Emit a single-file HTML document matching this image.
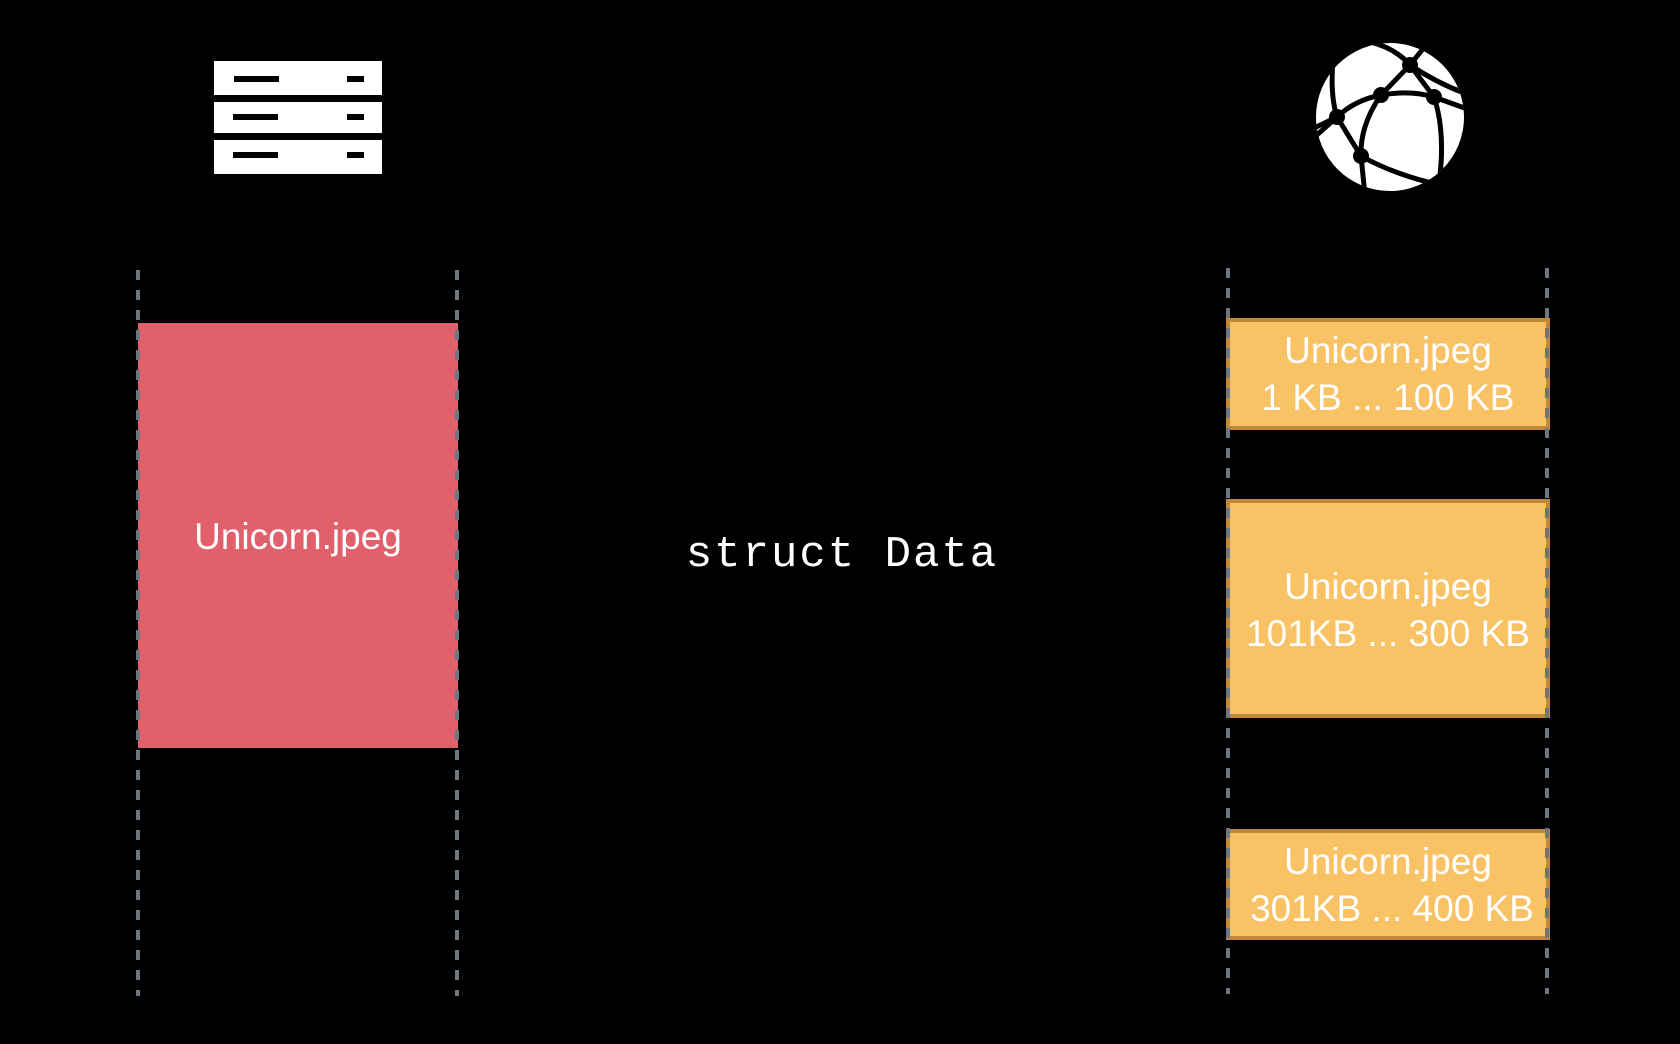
<!DOCTYPE html>
<html><head><meta charset="utf-8"><style>
html,body{margin:0;padding:0;background:#000;}
svg{display:block}
</style></head><body>
<svg width="1680" height="1044" viewBox="0 0 1680 1044" xmlns="http://www.w3.org/2000/svg">
<defs><clipPath id="gc"><circle cx="1390" cy="117" r="74"/></clipPath></defs>
<rect width="1680" height="1044" fill="#000"/>
<!-- server -->
<g fill="#fff">
<rect x="214" y="61" width="168" height="34"/>
<rect x="214" y="102" width="168" height="31"/>
<rect x="214" y="140" width="168" height="34"/>
</g>
<g fill="#000">
<rect x="234" y="76" width="45" height="6"/><rect x="347" y="76" width="17" height="6"/>
<rect x="233" y="114" width="45" height="6"/><rect x="347" y="114" width="17" height="6"/>
<rect x="233" y="152" width="45" height="6"/><rect x="347" y="152" width="17" height="6"/>
</g>
<!-- globe -->
<g>
<circle cx="1390" cy="117" r="74" fill="#fff"/>
<g fill="none" stroke="#000" stroke-width="5" clip-path="url(#gc)">
<path d="M1370 42 Q1395 48 1410 65 Q1440 85 1470 95"/>
<path d="M1310 130 L1337 117 Q1355 100 1381 95 Q1410 90 1434 97 L1470 110"/>
<path d="M1337 117 L1361 156 Q1395 175 1440 185"/>
<path d="M1430 40 L1410 65 L1381 95 Q1360 125 1361 156 L1365 195"/>
<path d="M1410 65 L1434 97 Q1445 130 1440 175"/>
<path d="M1333 60 Q1330 95 1337 117 L1300 150"/>
</g>
<g fill="#000">
<circle cx="1410" cy="65" r="8"/><circle cx="1381" cy="95" r="8"/>
<circle cx="1434" cy="97" r="8"/><circle cx="1337" cy="117" r="8"/>
<circle cx="1361" cy="156" r="8"/>
</g>
</g>
<!-- red -->
<rect x="138" y="323" width="320" height="425" fill="#e0606b"/>
<!-- orange boxes -->
<g fill="#f9c265" stroke="#c08838" stroke-width="4">
<rect x="1228" y="320" width="320" height="108"/>
<rect x="1228" y="501" width="320" height="215"/>
<rect x="1228" y="831" width="320" height="107"/>
</g>
<!-- dashed lines -->
<g stroke="#6d7780" stroke-width="4" stroke-dasharray="10 10">
<line x1="138" y1="270" x2="138" y2="996"/>
<line x1="457" y1="270" x2="457" y2="996"/>
<line x1="1228" y1="268" x2="1228" y2="994"/>
<line x1="1547" y1="268" x2="1547" y2="994"/>
</g>
<g font-family="Liberation Sans, sans-serif" font-size="37" fill="#fff" text-anchor="middle">
<text x="298" y="549">Unicorn.jpeg</text>
<text x="1388" y="363">Unicorn.jpeg</text>
<text x="1388" y="410">1 KB ... 100 KB</text>
<text x="1388" y="599">Unicorn.jpeg</text>
<text x="1388" y="646">101KB ... 300 KB</text>
<text x="1388" y="874">Unicorn.jpeg</text>
<text x="1392" y="921">301KB ... 400 KB</text>
</g>
<text x="842" y="566" font-family="Liberation Mono, monospace" font-size="44" fill="#fff" text-anchor="middle" letter-spacing="2">struct Data</text>
</svg>
</body></html>
